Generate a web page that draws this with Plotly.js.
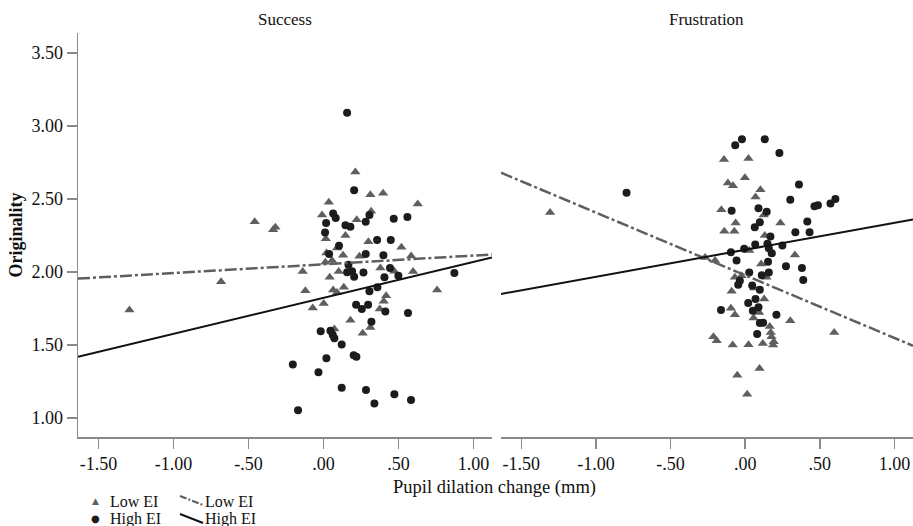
<!DOCTYPE html>
<html>
<head>
<meta charset="utf-8">
<script src="https://cdn.plot.ly/plotly-3.0.1.min.js"></script>
<style>html,body{margin:0;padding:0;background:#fff;}#chart{width:913px;height:526px;}</style>
</head>
<body>
<div id="chart"></div>
<script>
// ---- Data ----
const panelTitles = ["Success", "Frustration"];
const xTickVals = [-1.5, -1.0, -0.5, 0, 0.5, 1.0];
const xTickText = ["-1.50", "-1.00", "-.50", ".00", ".50", "1.00"];
const yTickVals = [1.0, 1.5, 2.0, 2.5, 3.0, 3.5];
const yTickText = ["1.00", "1.50", "2.00", "2.50", "3.00", "3.50"];

// Success, Low EI (triangles)
const successLowX = [0.213,0.313,0.398,0.036,0.629,-0.458,-0.32,-0.335,-0.009,0.318,0.222,0.147,0.016,0.30,0.091,0.52,0.02,0.131,0.24,0.585,0.013,0.058,0.38,-0.138,0.102,0.473,0.598,-0.682,0.042,-0.12,0.065,0.136,0.091,0.758,0.418,0.402,0.002,-0.071,0.376,0.18,0.313,0.262,0.073,-1.293];
const successLowY = [2.685,2.53,2.54,2.477,2.465,2.344,2.307,2.29,2.39,2.417,2.358,2.25,2.227,2.207,2.165,2.17,2.13,2.115,2.108,2.11,2.067,2.078,2.028,2.003,2.003,2.005,2.003,1.934,1.964,1.872,1.877,1.895,1.86,1.877,1.838,1.80,1.785,1.753,1.747,1.67,1.62,1.58,1.61,1.74];
// Success, High EI (circles)
const successHighX = [0.158,0.205,0.065,0.082,0.018,0.307,0.282,0.469,0.56,0.147,0.18,0.011,0.358,0.449,0.104,0.038,0.282,0.40,0.167,0.444,0.158,0.191,0.267,0.50,0.873,0.205,0.407,0.307,0.36,0.218,0.256,0.298,0.413,0.564,0.32,-0.018,0.047,0.062,0.073,0.122,0.02,0.202,0.22,-0.204,-0.033,0.122,0.284,0.473,0.584,0.34,-0.169];
const successHighY = [3.09,2.56,2.40,2.37,2.335,2.39,2.344,2.365,2.376,2.32,2.31,2.27,2.22,2.22,2.18,2.124,2.124,2.115,2.05,2.028,1.998,2.005,1.996,1.975,1.994,1.968,1.964,1.868,1.895,1.776,1.747,1.776,1.73,1.72,1.66,1.595,1.598,1.57,1.547,1.503,1.41,1.43,1.42,1.366,1.314,1.208,1.192,1.163,1.124,1.10,1.053];
// Frustration, Low EI (triangles)
const frustLowX = [-1.307,-0.142,0.022,-0.002,-0.116,-0.082,0.102,0.069,-0.16,0.124,-0.064,0.236,-0.14,-0.073,0.131,0.027,0.333,-0.202,-0.269,0.107,-0.069,-0.024,0.142,-0.091,0.06,0.127,-0.096,0.093,-0.069,0.056,0.302,0.164,0.171,0.176,-0.213,-0.191,-0.084,0.022,0.118,0.191,0.187,0.596,-0.053,0.096,0.013];
const frustLowY = [2.408,2.77,2.777,2.646,2.61,2.59,2.564,2.513,2.426,2.39,2.335,2.335,2.28,2.28,2.25,2.147,2.117,2.078,2.10,2.055,1.964,1.975,1.964,1.868,1.89,1.815,1.751,1.723,1.707,1.685,1.666,1.627,1.586,1.556,1.556,1.529,1.50,1.501,1.51,1.522,1.50,1.586,1.293,1.339,1.163];
// Frustration, High EI (circles)
const frustHighX = [-0.795,-0.067,-0.022,0.131,0.229,0.36,0.302,0.464,0.487,0.571,0.604,-0.091,0.089,0.144,0.098,0.064,0.416,0.336,0.431,0.169,0.067,0.149,0.249,0.158,-0.007,-0.096,0.178,-0.058,0.153,0.273,0.38,0.027,0.158,0.111,0.389,-0.036,-0.047,0.047,0.098,0.069,0.02,0.089,0.051,-0.162,0.209,0.098,0.12,0.08];
const frustHighY = [2.543,2.868,2.909,2.909,2.815,2.60,2.495,2.45,2.458,2.47,2.50,2.42,2.437,2.413,2.34,2.307,2.346,2.273,2.273,2.243,2.188,2.193,2.181,2.163,2.159,2.135,2.128,2.078,2.071,2.04,2.028,1.996,1.996,1.977,1.946,1.94,1.913,1.907,1.879,1.815,1.788,1.758,1.735,1.74,1.707,1.65,1.652,1.575];

// Fit lines (values at the panel edges)
const xRange = [-1.636, 1.124];
const successLowFit = [1.955, 2.12];
const successHighFit = [1.42, 2.10];
const frustLowFit = [2.68, 1.495];
const frustHighFit = [1.85, 2.36];

// ---- Styles ----
const FONT = "Liberation Serif, Times New Roman, serif";
const triColor = "#5f5f5f";
const dotColor = "#1c1c1c";
const axisColor = "#8a8a8a";
const triMarker = {symbol: "triangle-up", size: 9, color: triColor};
const dotMarker = {symbol: "circle", size: 8, color: dotColor};
const lowLine = {color: "#5f5f5f", width: 2.5, dash: "12px,3px,3px,3px"};
const highLine = {color: "#111111", width: 2};

function sc(x, y, marker, xa) {
  return {type: "scatter", mode: "markers", x: x, y: y, marker: marker, xaxis: xa, yaxis: "y", showlegend: false, hoverinfo: "skip"};
}
function ln(y, line, xa) {
  return {type: "scatter", mode: "lines", x: xRange, y: y, line: line, xaxis: xa, yaxis: "y", showlegend: false, hoverinfo: "skip"};
}

const data = [
  sc(successLowX, successLowY, triMarker, "x"),
  sc(successHighX, successHighY, dotMarker, "x"),
  ln(successLowFit, lowLine, "x"),
  ln(successHighFit, highLine, "x"),
  sc(frustLowX, frustLowY, triMarker, "x2"),
  sc(frustHighX, frustHighY, dotMarker, "x2"),
  ln(frustLowFit, lowLine, "x2"),
  ln(frustHighFit, highLine, "x2")
];

const W = 913, H = 526;
const px = v => v / W;
const py = v => 1 - v / H;

const xCommon = {
  range: xRange, tickvals: xTickVals, ticktext: xTickText,
  showgrid: false, zeroline: false, showline: true, linecolor: axisColor, linewidth: 1.5,
  ticks: "outside", ticklen: 10, tickwidth: 1.5, tickcolor: axisColor,
  tickfont: {family: FONT, size: 18, color: "#111"}, anchor: "y", fixedrange: true
};

function ann(text, x, y, xanchor, font) {
  return {text: text, x: px(x), y: py(y), xref: "paper", yref: "paper", xanchor: xanchor, yanchor: "middle", showarrow: false, font: font};
}
const txtFont = s => ({family: FONT, size: s, color: "#111"});

const layout = {
  width: W, height: H, autosize: false,
  margin: {l: 0, r: 0, t: 0, b: 0},
  paper_bgcolor: "#fff", plot_bgcolor: "#fff",
  showlegend: false,
  xaxis: Object.assign({}, xCommon, {domain: [px(78), px(492)]}),
  xaxis2: Object.assign({}, xCommon, {domain: [px(501), px(913)]}),
  yaxis: {
    domain: [py(437), py(33)], range: [0.870, 3.637],
    tickvals: yTickVals, ticktext: yTickText,
    showgrid: false, zeroline: false, showline: true, linecolor: axisColor, linewidth: 1.5,
    ticks: "outside", ticklen: 10, tickwidth: 1.5, tickcolor: axisColor,
    tickfont: {family: FONT, size: 18, color: "#111"}, anchor: "x", fixedrange: true,
    title: {text: "<b>Originality</b>", font: {family: FONT, size: 18, color: "#111"}, standoff: 4}
  },
  annotations: [
    ann(panelTitles[0], 285, 20, "center", txtFont(17)),
    ann(panelTitles[1], 706, 20, "center", txtFont(17)),
    ann("Pupil dilation change (mm)", 494, 487, "center", txtFont(18.5)),
    ann("▲", 95, 501, "center", {family: "DejaVu Sans", size: 9, color: triColor}),
    ann("●", 95, 518, "center", {family: "DejaVu Sans", size: 10, color: dotColor}),
    ann("Low EI", 108, 501, "left", txtFont(16)),
    ann("High EI", 108, 519, "left", txtFont(16)),
    ann("Low EI", 203, 501, "left", txtFont(16)),
    ann("High EI", 203, 519, "left", txtFont(16))
  ],
  shapes: [
    {type: "line", xref: "paper", yref: "paper", x0: px(180), y0: py(496), x1: px(203), y1: py(505), line: {color: "#5f5f5f", width: 2, dash: "7px,2px,2px,2px"}},
    {type: "line", xref: "paper", yref: "paper", x0: px(180), y0: py(514), x1: px(203), y1: py(523), line: {color: "#111", width: 2}}
  ]
};

Plotly.newPlot("chart", data, layout, {staticPlot: true, displayModeBar: false});
</script>
</body>
</html>
